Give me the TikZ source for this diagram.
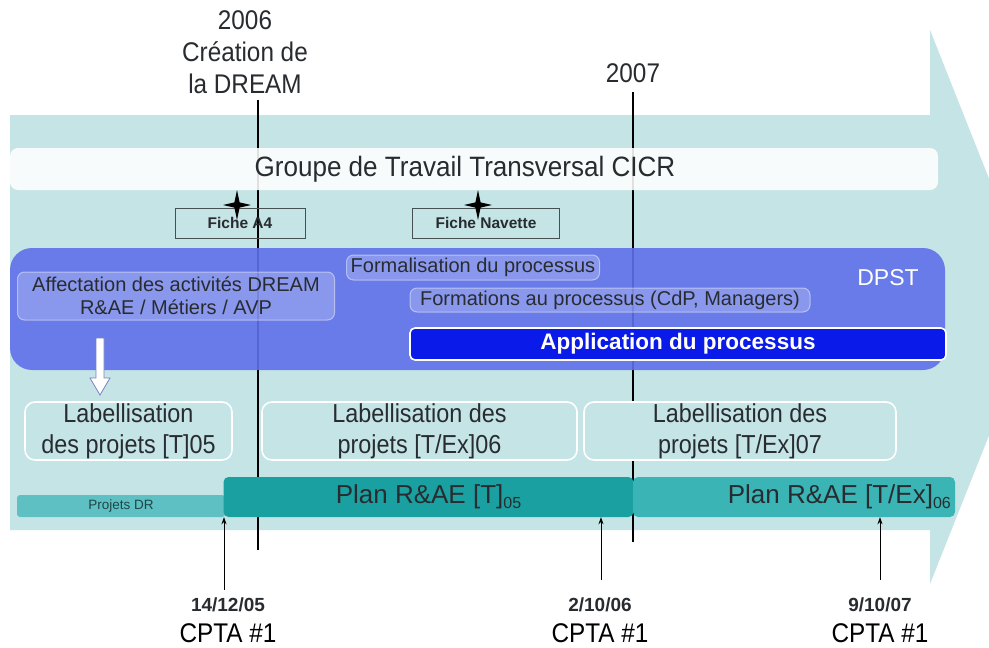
\documentclass[tikz,border=0pt]{standalone}
\usepackage{fontspec}
\setmainfont{Liberation Sans}
\newfontfamily\narrowfont[FakeStretch=0.9]{Liberation Sans}
\newfontfamily\groupfont[FakeStretch=0.93]{Liberation Sans}
\usetikzlibrary{arrows.meta}
\definecolor{bgteal}{RGB}{197,228,230}
\definecolor{dpstblue}{RGB}{95,112,234}
\definecolor{appblue}{RGB}{10,26,232}
\definecolor{planA}{RGB}{26,160,160}
\definecolor{planB}{RGB}{58,180,180}
\definecolor{projdr}{RGB}{94,192,194}
\definecolor{darktext}{RGB}{40,44,48}
\definecolor{drtext}{RGB}{30,70,72}
\definecolor{ficheframe}{RGB}{70,80,80}
\definecolor{arrowedge}{RGB}{120,130,190}
\tikzset{
  vline/.style={line width=1.2pt, black},
  groupbox/.style={rounded corners=8pt, fill=white, fill opacity=0.88, text opacity=1, inner sep=0pt},
  fichebox/.style={draw=ficheframe, line width=0.8pt, inner sep=0pt, font=\fontsize{15.5}{17}\selectfont\bfseries, text=darktext},
  dpstbox/.style={rounded corners=22pt, fill=dpstblue, fill opacity=0.9, inner sep=0pt},
  lightbox/.style={rounded corners=7pt, fill=white, fill opacity=0.22, draw=white, draw opacity=0.45, line width=1pt, text opacity=1, text=darktext, inner sep=0pt, font=\fontsize{20}{23}\selectfont, align=center},
  appbox/.style={rounded corners=5pt, fill=appblue, draw=white, line width=1.6pt, inner sep=0pt, text=white, font=\fontsize{22.5}{25}\selectfont\bfseries},
  labbox/.style={rounded corners=10pt, fill=bgteal, draw=white, line width=1.6pt, inner sep=0pt, align=center, text=darktext, font=\narrowfont\fontsize{26}{31}\selectfont},
  barbox/.style={rounded corners=5pt, inner sep=0pt, text=darktext},
  bartext/.style={inner sep=0pt, text=darktext, font=\fontsize{26}{30}\selectfont},
  uparrow/.style={line width=0.8pt, black, -{Stealth[length=7pt,width=5pt]}},
  datelabel/.style={font=\fontsize{19}{22}\selectfont\bfseries, text=darktext},
  cptalabel/.style={font=\narrowfont\fontsize{27}{30}\selectfont, text=black, inner sep=0pt},
  toplabel/.style={font=\narrowfont\fontsize{27}{32}\selectfont, align=center, text=darktext},
  starshape/.style={fill=black}
}
\newcommand{\fourstar}[2]{%
  \fill[starshape] (#1,#2-15) -- (#1+2.6,#2-2.6) -- (#1+14,#2) -- (#1+2.6,#2+2.6) -- (#1,#2+15) -- (#1-2.6,#2+2.6) -- (#1-14,#2) -- (#1-2.6,#2-2.6) -- cycle;}
\begin{document}
\begin{tikzpicture}[x=1pt,y=-1pt]
\useasboundingbox (0,0) rectangle (989,648);
\fill[white] (0,0) rectangle (989,648);
\begin{scope}
  \clip (0,0) rectangle (989,648);
  \fill[bgteal] (10,115) -- (930,115) -- (930,30) -- (1040,307) -- (930,584) -- (930,530) -- (10,530) -- cycle;
\end{scope}

% top labels
\node[toplabel] (t2006) at (245,52) {2006\\Création de\\la DREAM};
\node[toplabel] (t2007) at (633,73) {2007};

% vertical year lines
\coordinate (v1top) at (258,100);
\coordinate (v1bot) at (258,550);
\coordinate (v2top) at (633,92);
\coordinate (v2bot) at (633,542);
\draw[vline] (v1top) -- (v1bot);
\draw[vline] (v2top) -- (v2bot);

% CICR group
\node[groupbox, minimum width=928pt, minimum height=42pt] (groupe) at (474,169) {};
\node[font=\groupfont\fontsize{28}{32}\selectfont, text=darktext] (groupetxt) at (465,169) {Groupe de Travail Transversal CICR};

% fiches
\node[fichebox, minimum width=130pt, minimum height=30pt] (ficheA) at (240,223) {Fiche A4};
\node[fichebox, minimum width=147pt, minimum height=30pt] (ficheN) at (486,223) {Fiche Navette};
\fourstar{237}{205}
\fourstar{478}{205}

% DPST
\node[dpstbox, minimum width=935pt, minimum height=122pt] (dpst) at (477.5,309) {};
\node[text=white, font=\fontsize{23}{26}\selectfont] (dpstlbl) at (888,278) {DPST};
\node[lightbox, minimum width=317pt, minimum height=48pt] (affect) at (176,296) {Affectation des activités DREAM\\R\&AE / Métiers / AVP};
\node[lightbox, minimum width=253pt, minimum height=25pt] (formal) at (473,267.5) {Formalisation du processus};
\node[lightbox, minimum width=400pt, minimum height=24pt] (format) at (610,300) {Formations au processus (CdP, Managers)};
\node[appbox, minimum width=536pt, minimum height=32pt] (appli) at (678,344) {Application du processus};

% hollow down arrow
\filldraw[fill=white, draw=arrowedge, line width=0.8pt] (96,338) -- (104,338) -- (104,378) -- (110,378) -- (100,395) -- (90,378) -- (96,378) -- cycle;

% labellisation
\node[labbox, minimum width=207pt, minimum height=58pt] (lab1) at (128.5,431) {Labellisation\\des projets [T]05};
\node[labbox, minimum width=315pt, minimum height=58pt] (lab2) at (419.5,431) {Labellisation des\\projets [T/Ex]06};
\node[labbox, minimum width=312pt, minimum height=58pt] (lab3) at (740,431) {Labellisation des\\projets [T/Ex]07};

% bars
\node[barbox, fill=projdr, rounded corners=3pt, minimum width=208pt, minimum height=22pt, font=\fontsize{13.5}{15}\selectfont, text=drtext] (projdr) at (121,506) {Projets DR};
\node[barbox, fill=planA, minimum width=410pt, minimum height=40pt, font=\fontsize{26}{30}\selectfont] (plan05) at (428.5,497) {Plan R\&AE [T]\raisebox{-0.35ex}{\fontsize{16}{18}\selectfont 05}};
\node[barbox, fill=planB, minimum width=322pt, minimum height=40pt] (plan06) at (794,497) {};
\node[bartext, anchor=east] (plan06txt) at (951,497) {Plan R\&AE [T/Ex]\raisebox{-0.35ex}{\fontsize{16}{18}\selectfont 06}};

% dates
\node[datelabel] (d1) at (228,605) {14/12/05};
\node[datelabel] (d2) at (600,605) {2/10/06};
\node[datelabel] (d3) at (880,605) {9/10/07};
\node[cptalabel] (c1) at (228,633) {CPTA \#1};
\node[cptalabel] (c2) at (600,633) {CPTA \#1};
\node[cptalabel] (c3) at (880,633) {CPTA \#1};

% up arrows
\coordinate (a1) at (224,590);
\coordinate (a2) at (601,580);
\coordinate (a3) at (880,580);
\draw[uparrow] (a1) -- (a1 |- plan05.south);
\draw[uparrow] (a2) -- (a2 |- plan05.south);
\draw[uparrow] (a3) -- (a3 |- plan06.south);
\end{tikzpicture}
\end{document}
